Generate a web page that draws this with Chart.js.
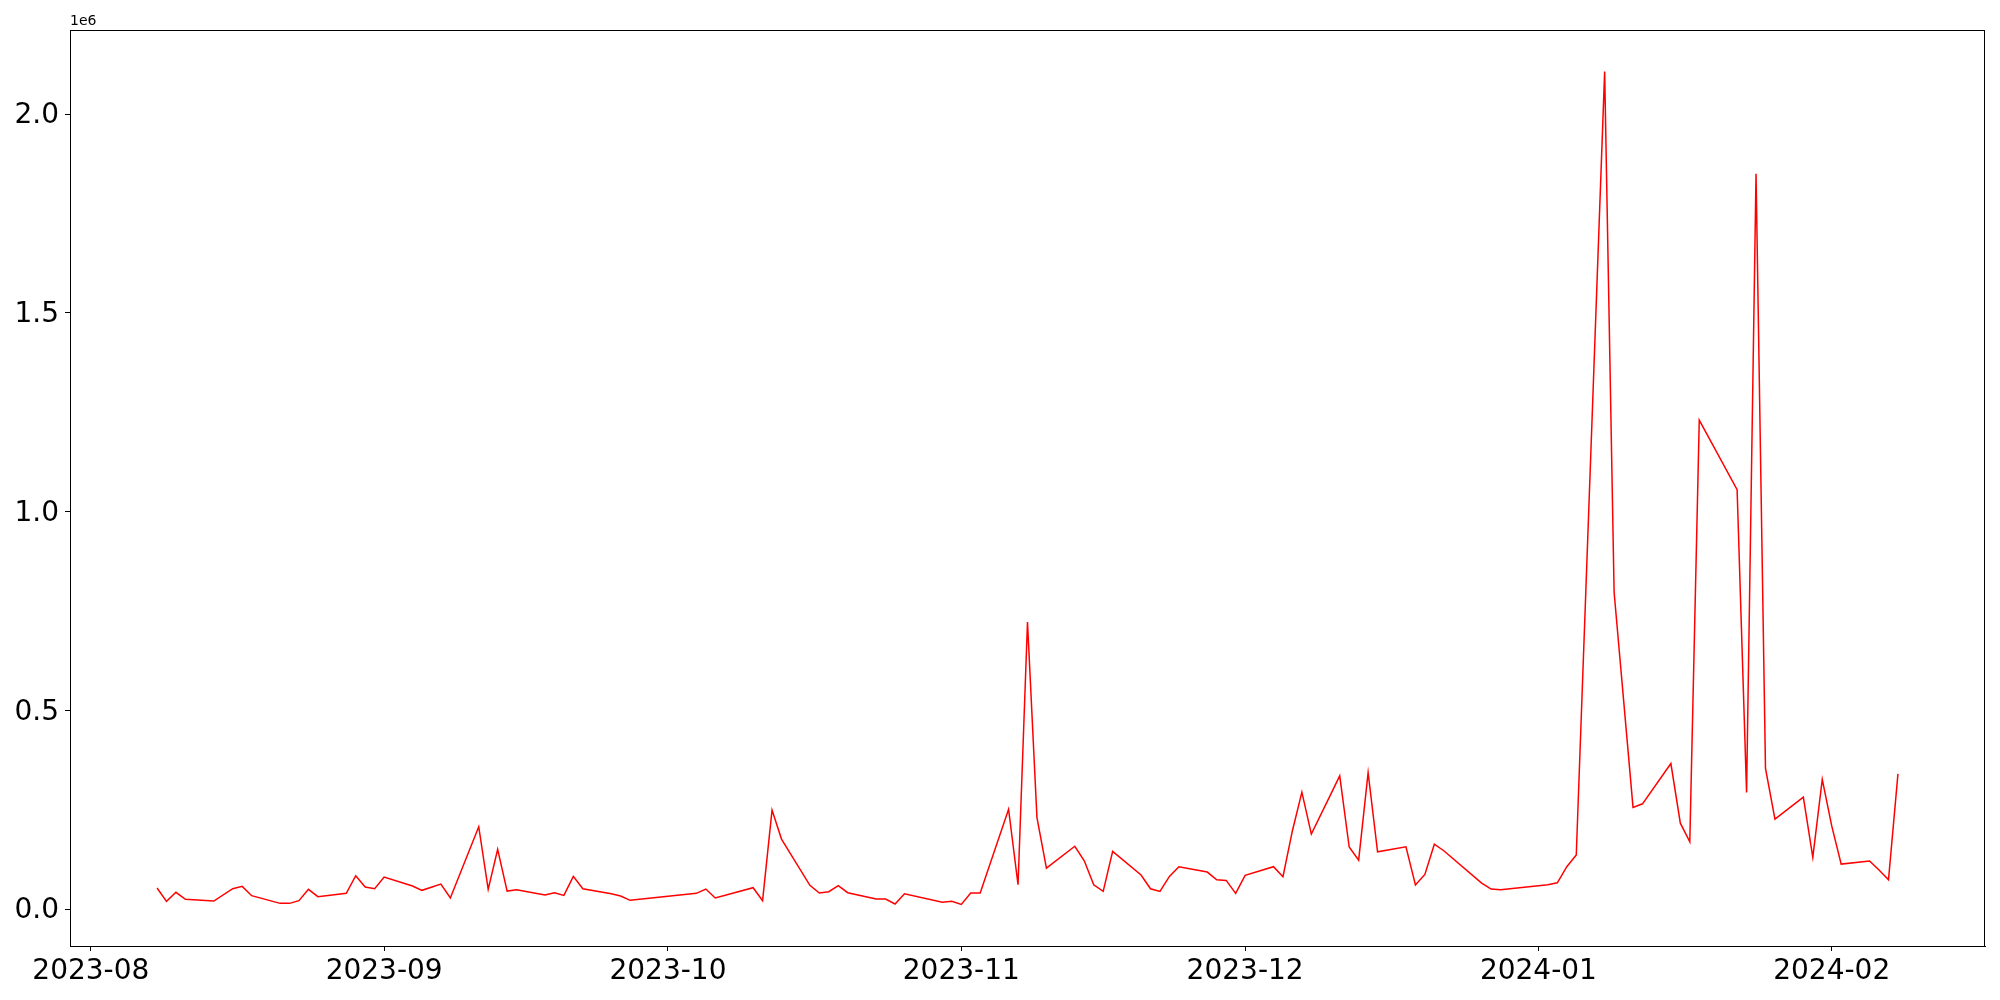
<!DOCTYPE html>
<html>
<head>
<meta charset="utf-8">
<script src="https://cdn.jsdelivr.net/npm/chart.js@4.4.1/dist/chart.umd.min.js"></script>
<style>
  body { margin: 0; background: #fff; }
  #wrap { width: 2000px; height: 1000px; }
</style>
</head>
<body>
<div id="wrap"><canvas id="lineChart"></canvas></div>
<script>
const dates = [
  '2023-08-08','2023-08-09','2023-08-10','2023-08-11','2023-08-14','2023-08-16','2023-08-17','2023-08-18',
  '2023-08-21','2023-08-22','2023-08-23','2023-08-24','2023-08-25','2023-08-28','2023-08-29','2023-08-30','2023-08-31',
  '2023-09-01','2023-09-04','2023-09-05','2023-09-07','2023-09-08','2023-09-11','2023-09-12','2023-09-13','2023-09-14','2023-09-15',
  '2023-09-18','2023-09-19','2023-09-20','2023-09-21','2023-09-22','2023-09-25','2023-09-26','2023-09-27',
  '2023-10-04','2023-10-05','2023-10-06','2023-10-10','2023-10-11','2023-10-12','2023-10-13',
  '2023-10-16','2023-10-17','2023-10-18','2023-10-19','2023-10-20','2023-10-23','2023-10-24','2023-10-25','2023-10-26',
  '2023-10-30','2023-10-31','2023-11-01','2023-11-02','2023-11-03','2023-11-06','2023-11-07','2023-11-08','2023-11-09','2023-11-10',
  '2023-11-13','2023-11-14','2023-11-15','2023-11-16','2023-11-17','2023-11-20','2023-11-21','2023-11-22','2023-11-23','2023-11-24',
  '2023-11-27','2023-11-28','2023-11-29','2023-11-30','2023-12-01','2023-12-04','2023-12-05','2023-12-06','2023-12-07','2023-12-08',
  '2023-12-11','2023-12-12','2023-12-13','2023-12-14','2023-12-15','2023-12-18','2023-12-19','2023-12-20','2023-12-21','2023-12-22',
  '2023-12-26','2023-12-27','2023-12-28','2024-01-02','2024-01-03','2024-01-04','2024-01-05','2024-01-08','2024-01-09',
  '2024-01-11','2024-01-12','2024-01-15','2024-01-16','2024-01-17','2024-01-18','2024-01-22','2024-01-23','2024-01-24','2024-01-25','2024-01-26',
  '2024-01-29','2024-01-30','2024-01-31','2024-02-01','2024-02-02','2024-02-05','2024-02-06','2024-02-07','2024-02-08'
];

const values = [
  52800, 19300, 42000, 24300, 20100, 51000, 57000, 33500,
  14200, 14200, 21000, 49400, 31000, 39400, 83800, 55300, 51000,
  80400, 57800, 47000, 62800, 27700, 207000, 49400, 150000, 45200, 48600,
  35200, 41000, 34300, 82100, 51000, 38500, 32700, 21900,
  39400, 50300, 27700, 53600, 21000, 249000, 176000,
  59500, 40200, 43600, 58700, 41000, 25100, 25100, 12600, 38500,
  16800, 19300, 11700, 40200, 40200, 251000, 61000, 722000, 230000, 103000,
  158000, 121500, 61000, 44400, 145000, 85500, 51000, 44400, 82000, 106400,
  93000, 73700, 72000, 39400, 84600, 106400, 81300, 197000, 294000, 188500,
  335000, 156000, 123000, 343000, 144000, 156600, 60300, 87000, 163000, 146600,
  65400, 50300, 48600, 61000, 66000, 106400, 135700, 2107000, 797000,
  255600, 264700, 366000, 216000, 169000, 1230000, 1055000, 293000, 1850000, 354000, 226000,
  281500, 130000, 326000, 209000, 113000, 120700, 98000, 73700, 340000
];

const xTickDates = ['2023-08-01','2023-09-01','2023-10-01','2023-11-01','2023-12-01','2024-01-01','2024-02-01'];
const xTickLabels = ['2023-08','2023-09','2023-10','2023-11','2023-12','2024-01','2024-02'];
const yTicks = [0, 500000, 1000000, 1500000, 2000000];
const yTickLabels = ['0.0','0.5','1.0','1.5','2.0'];
const offsetText = '1e6';

const points = dates.map((d, i) => ({ x: Date.parse(d), y: values[i] }));

// matplotlib-like 5% margins
const xFirst = points[0].x;
const xLast = points[points.length - 1].x;
const xPad = (xLast - xFirst) * 0.05;
const yMinV = Math.min(...values);
const yMaxV = Math.max(...values);
const yPad = (yMaxV - yMinV) * 0.05;

Chart.defaults.font.family = "'DejaVu Sans', sans-serif";
Chart.defaults.color = '#000';

const framePlugin = {
  id: 'frame',
  afterDraw(chart) {
    const a = chart.chartArea;
    const c = chart.ctx;
    c.save();
    c.strokeStyle = '#000';
    c.lineWidth = 1;
    c.strokeRect(a.left + 0.5, a.top + 0.5, a.right - a.left - 1, a.bottom - a.top);
    c.font = "14px 'DejaVu Sans'";
    c.fillStyle = '#000';
    c.textAlign = 'left';
    c.textBaseline = 'bottom';
    c.fillText(offsetText, a.left, a.top - 2);
    c.restore();
  }
};

const ctx = document.getElementById('lineChart').getContext('2d');

const chart = new Chart(ctx, {
  type: 'line',
  data: {
    datasets: [{
      data: points,
      borderColor: '#ff0000',
      borderWidth: 1.5,
      pointRadius: 0,
      tension: 0,
      fill: false
    }]
  },
  options: {
    responsive: true,
    maintainAspectRatio: false,
    animation: false,
    layout: { padding: { top: 30, right: 15, left: 0, bottom: 0 } },
    plugins: {
      legend: { display: false },
      tooltip: { enabled: false }
    },
    scales: {
      x: {
        type: 'linear',
        min: xFirst - xPad,
        max: xLast + xPad,
        afterBuildTicks: (axis) => {
          axis.ticks = xTickDates.map(d => ({ value: Date.parse(d) }));
        },
        afterFit: (axis) => { axis.height = 54; },
        ticks: {
          autoSkip: false,
          maxRotation: 0,
          padding: 4,
          font: { size: 28 },
          callback: (value, index) => xTickLabels[index]
        },
        grid: { drawOnChartArea: false, tickLength: 5, color: '#000', lineWidth: 1 },
        border: { display: true, color: '#000', width: 1 }
      },
      y: {
        type: 'linear',
        min: yMinV - yPad,
        max: yMaxV + yPad,
        afterBuildTicks: (axis) => {
          axis.ticks = yTicks.map(v => ({ value: v }));
        },
        afterFit: (axis) => { axis.width = 70; },
        ticks: {
          autoSkip: false,
          padding: 6,
          labelOffset: 2,
          font: { size: 28 },
          callback: (value, index) => yTickLabels[index]
        },
        grid: { drawOnChartArea: false, tickLength: 5, color: '#000', lineWidth: 1 },
        border: { display: true, color: '#000', width: 1 }
      }
    }
  },
  plugins: [framePlugin]
});
</script>
</body>
</html>
